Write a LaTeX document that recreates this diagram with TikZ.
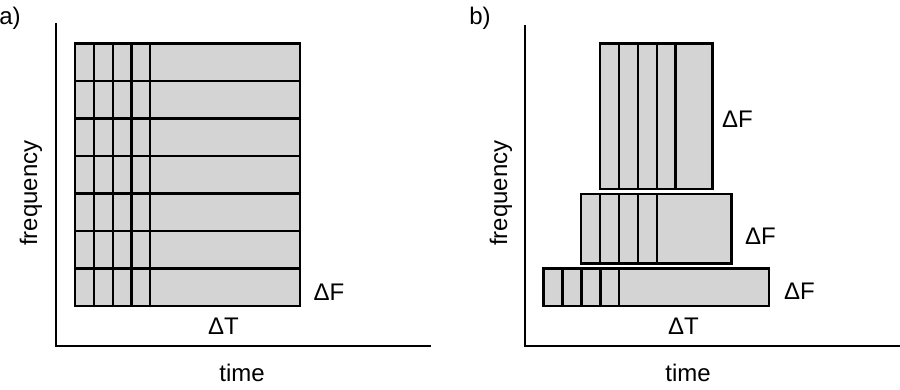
\documentclass[tikz,border=0pt]{standalone}
\usepackage{fontspec}
\setmainfont{Liberation Sans}
\definecolor{cellgray}{HTML}{D4D4D4}
\tikzset{
  tile/.style={draw=black, fill=cellgray, line width=2.6pt},
  split/.style={draw=black, line width=2.4pt},
  axisline/.style={draw=black, line width=2pt},
  lbl/.style={font=\fontsize{24}{28}\selectfont, inner sep=0pt},
}
\begin{document}
\begin{tikzpicture}[x=1pt, y=-1pt]
\useasboundingbox (0,0) rectangle (900,390);

% a) uniform tiling
\draw[axisline] (56,23) -- (56,346) -- (431,346);
\draw[tile] (75,43.5) rectangle (300,306);
\foreach \y in {81,118.5,156,193.5,231,268.5}
  \draw[split] (75,\y) -- (300,\y);
\foreach \x in {94,113,131.5,150}
  \draw[split] (\x,43.5) -- (\x,306);
\node[lbl] (tagA) at (10,18) {a)};
\node[lbl] (dfA) at (329,292) {ΔF};
\node[lbl] (dtA) at (223.5,326.5) {ΔT};
\node[lbl] (timeA) at (242,373) {time};
\node[lbl, rotate=90] (freqA) at (31,193) {frequency};

% b) varying bands
\draw[axisline] (525,25) -- (525,346) -- (900,346);
\draw[tile] (600,43.5) rectangle (712.5,189);
\foreach \x in {619,638,657,675.5}
  \draw[split] (\x,43.5) -- (\x,189);
\draw[tile] (581,194) rectangle (731.5,263.5);
\foreach \x in {600,619,638,657}
  \draw[split] (\x,194) -- (\x,263.5);
\draw[tile] (543.5,268.5) rectangle (769,306);
\foreach \x in {562.5,581.5,600.5,619}
  \draw[split] (\x,268.5) -- (\x,306);
\node[lbl] (tagB) at (480,18) {b)};
\node[lbl] (dfTop) at (737.5,119) {ΔF};
\node[lbl] (dfMid) at (760.5,236) {ΔF};
\node[lbl] (dfLow) at (799.5,291) {ΔF};
\node[lbl] (dtB) at (683.5,326.5) {ΔT};
\node[lbl] (timeB) at (688,373) {time};
\node[lbl, rotate=90] (freqB) at (501,193) {frequency};
\end{tikzpicture}
\end{document}
